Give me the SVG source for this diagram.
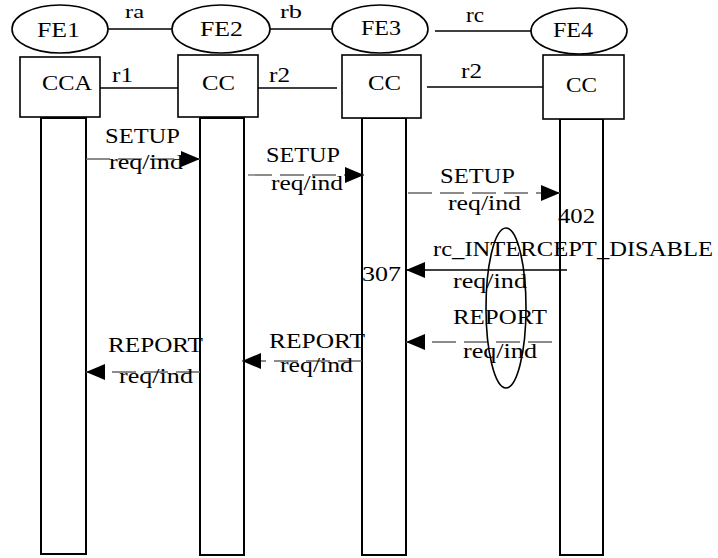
<svg xmlns="http://www.w3.org/2000/svg" width="718" height="558" viewBox="0 0 718 558">
<style>
text{font-family:"Liberation Serif","DejaVu Serif","Times New Roman",serif;font-size:21px;fill:#000}
.sm{font-size:19px}
.sh{fill:#fff;stroke:#000;stroke-width:1.6}
.ll{fill:#fff;stroke:#000;stroke-width:2}
.ln{stroke:#000;stroke-width:1.6;fill:none}
.msg{stroke:#666;stroke-width:1.3;fill:none;stroke-dasharray:24,8}
.msgs{stroke:#000;stroke-width:1.6;fill:none}
</style>
<defs>
<marker id="ah" markerUnits="userSpaceOnUse" markerWidth="19" markerHeight="16" refX="19" refY="8" orient="auto">
<path d="M0,0 L19,8 L0,16 z" fill="#000"/>
</marker>
</defs>
<rect width="718" height="558" fill="#fff"/>
<g id="connectors">
<line class="ln" x1="108" y1="29" x2="172" y2="29"/>
<line class="ln" x1="270" y1="29" x2="332" y2="29"/>
<line class="ln" x1="435" y1="31" x2="531" y2="31"/>
<line class="ln" x1="100" y1="88" x2="178" y2="88"/>
<line class="ln" x1="258" y1="88" x2="337" y2="88"/>
<line class="ln" x1="427" y1="87" x2="543" y2="87"/>
</g>
<g id="lifelines">
<rect id="ll1" class="ll" x="41" y="118" width="45" height="436"/>
<rect id="ll2" class="ll" x="200" y="118" width="44" height="437"/>
<rect id="ll3" class="ll" x="362" y="118" width="44" height="437"/>
<rect id="ll4" class="ll" x="560" y="119" width="43" height="436"/>
</g>
<g id="FE1"><ellipse class="sh" cx="60" cy="29" rx="48" ry="24"/><text x="37" y="37" textLength="43" lengthAdjust="spacingAndGlyphs">FE1</text></g>
<g id="FE2"><ellipse class="sh" cx="221" cy="29" rx="49" ry="24"/><text x="200" y="36" textLength="43" lengthAdjust="spacingAndGlyphs">FE2</text></g>
<g id="FE3"><ellipse class="sh" cx="380" cy="29" rx="48" ry="24"/><text x="361" y="35" textLength="40" lengthAdjust="spacingAndGlyphs">FE3</text></g>
<g id="FE4"><ellipse class="sh" cx="579" cy="31" rx="48" ry="23"/><text x="553" y="37" textLength="40" lengthAdjust="spacingAndGlyphs">FE4</text></g>
<g id="CCA"><rect class="sh" x="20" y="57" width="80" height="60"/><text x="42" y="90" textLength="50" lengthAdjust="spacingAndGlyphs">CCA</text></g>
<g id="CC2"><rect class="sh" x="178" y="55" width="80" height="62"/><text x="202" y="90" textLength="33" lengthAdjust="spacingAndGlyphs">CC</text></g>
<g id="CC3"><rect class="sh" x="342" y="55" width="79" height="63"/><text x="368" y="90" textLength="33" lengthAdjust="spacingAndGlyphs">CC</text></g>
<g id="CC4"><rect class="sh" x="543" y="55" width="81" height="64"/><text x="566" y="92" textLength="31" lengthAdjust="spacingAndGlyphs">CC</text></g>
<g id="labels">
<text class="sm" x="125" y="18" textLength="19" lengthAdjust="spacingAndGlyphs">ra</text>
<text class="sm" x="280" y="18" textLength="22" lengthAdjust="spacingAndGlyphs">rb</text>
<text x="466" y="22" textLength="18" lengthAdjust="spacingAndGlyphs">rc</text>
<text x="112" y="82" textLength="21" lengthAdjust="spacingAndGlyphs">r1</text>
<text x="269" y="82" textLength="21" lengthAdjust="spacingAndGlyphs">r2</text>
<text x="461" y="78" textLength="21" lengthAdjust="spacingAndGlyphs">r2</text>
</g>
<g id="messages">
<line class="msg" x1="86" y1="159" x2="200" y2="159" marker-end="url(#ah)"/>
<line class="msg" x1="248" y1="175" x2="364" y2="175" marker-end="url(#ah)"/>
<line class="msg" x1="408" y1="193" x2="560" y2="193" marker-end="url(#ah)"/>
<line class="msgs" x1="567" y1="270" x2="406" y2="270" marker-end="url(#ah)"/>
<line class="msg" x1="552" y1="342" x2="406" y2="342" marker-end="url(#ah)"/>
<line class="msg" x1="362" y1="361" x2="242" y2="361" marker-end="url(#ah)"/>
<line class="msg" x1="200" y1="372" x2="86" y2="372" marker-end="url(#ah)"/>
</g>
<g id="message-labels">
<text x="105" y="143" textLength="75" lengthAdjust="spacingAndGlyphs">SETUP</text>
<text x="109" y="169" textLength="74" lengthAdjust="spacingAndGlyphs">req/ind</text>
<text x="266" y="162" textLength="74" lengthAdjust="spacingAndGlyphs">SETUP</text>
<text x="271" y="190" textLength="72" lengthAdjust="spacingAndGlyphs">req/ind</text>
<text x="440" y="183" textLength="75" lengthAdjust="spacingAndGlyphs">SETUP</text>
<text x="448" y="210" textLength="73" lengthAdjust="spacingAndGlyphs">req/ind</text>
<text x="558" y="223" textLength="37" lengthAdjust="spacingAndGlyphs">402</text>
<text x="433" y="256" textLength="280" lengthAdjust="spacingAndGlyphs">rc_INTERCEPT_DISABLE</text>
<text x="362" y="281" textLength="39" lengthAdjust="spacingAndGlyphs">307</text>
<text x="453" y="288" textLength="74" lengthAdjust="spacingAndGlyphs">req/ind</text>
<text x="453" y="324" textLength="94" lengthAdjust="spacingAndGlyphs">REPORT</text>
<text x="463" y="358" textLength="74" lengthAdjust="spacingAndGlyphs">req/ind</text>
<text x="269" y="348" textLength="96" lengthAdjust="spacingAndGlyphs">REPORT</text>
<text x="280" y="372" textLength="73" lengthAdjust="spacingAndGlyphs">req/ind</text>
<text x="108" y="352" textLength="95" lengthAdjust="spacingAndGlyphs">REPORT</text>
<text x="119" y="383" textLength="74" lengthAdjust="spacingAndGlyphs">req/ind</text>
</g>
<g id="highlight">
<ellipse cx="506" cy="308" rx="20" ry="80" fill="none" stroke="#000" stroke-width="1.6"/>
</g>
</svg>
